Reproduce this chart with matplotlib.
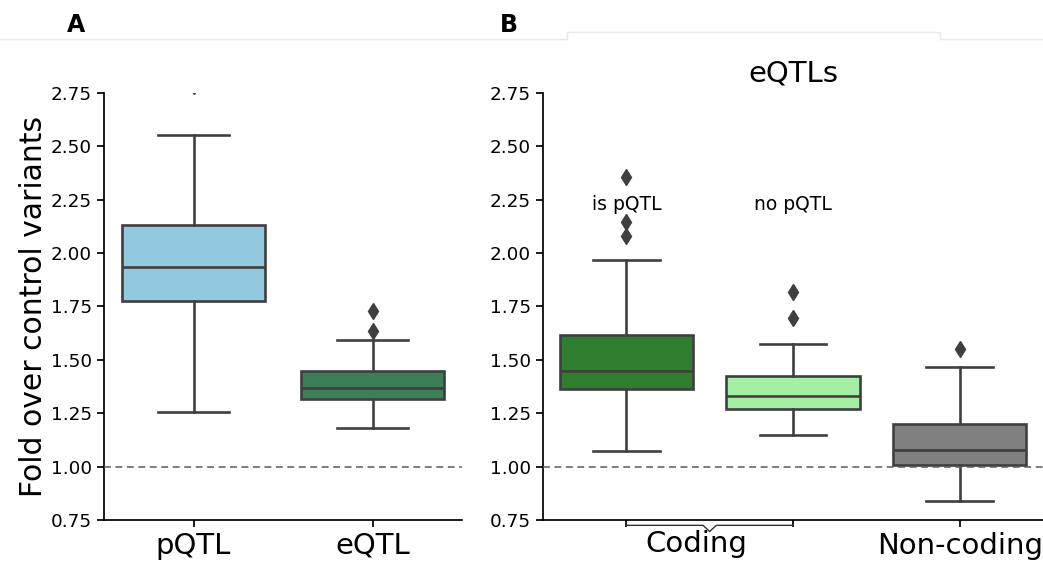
import matplotlib
matplotlib.use('Agg')
import matplotlib.pyplot as plt
import matplotlib.transforms as mtransforms
from matplotlib.lines import Line2D

# panel A data: pQTL / eQTL fold enrichment
a_labels = ['pQTL', 'eQTL']
a_whislo = [1.255, 1.181]
a_q1 = [1.777, 1.317]
a_med = [1.934, 1.367]
a_q3 = [2.130, 1.447]
a_whishi = [2.555, 1.595]
a_fliers = [[2.785], [1.637, 1.729]]
a_colors = ['#93c9de', '#3a7f58']

# panel B data: eQTLs split by coding / pQTL status
b_groups = ['is pQTL', 'no pQTL', 'Non-coding']
b_whislo = [1.073, 1.148, 0.840]
b_q1 = [1.364, 1.270, 1.008]
b_med = [1.448, 1.331, 1.080]
b_q3 = [1.617, 1.424, 1.200]
b_whishi = [1.968, 1.574, 1.468]
b_fliers = [[2.080, 2.146, 2.357], [1.696, 1.818], [1.551]]
b_colors = ['#2f7e2f', '#a4efa4', '#808080']

yticks = [0.75, 1.00, 1.25, 1.50, 1.75, 2.00, 2.25, 2.50, 2.75]

edge = '#3f3f3f'
lw = 1.9


def make_stats(lo, q1, med, q3, hi, fl):
    stats = []
    for i in range(len(med)):
        stats.append({'whislo': lo[i], 'q1': q1[i], 'med': med[i], 'q3': q3[i],
                      'whishi': hi[i], 'fliers': fl[i]})
    return stats


def draw_boxes(ax, stats, colors):
    n = len(stats)
    bp = ax.bxp(stats, positions=list(range(n)), widths=0.8, capwidths=0.4,
                patch_artist=True, showfliers=True,
                boxprops=dict(edgecolor=edge, linewidth=lw),
                medianprops=dict(color=edge, linewidth=lw),
                whiskerprops=dict(color=edge, linewidth=lw),
                capprops=dict(color=edge, linewidth=lw),
                flierprops=dict(marker='d', markersize=8.5, markerfacecolor=edge,
                                markeredgecolor=edge, linestyle='none'))
    for patch, c in zip(bp['boxes'], colors):
        patch.set_facecolor(c)
    ax.axhline(1.0, color='#5a5a5a', linestyle=(0, (4.5, 3)), linewidth=1.1, zorder=5)
    ax.set_ylim(0.75, 2.75)
    ax.set_xlim(-0.5, n - 0.5)
    ax.set_yticks(yticks)
    ax.set_yticklabels(['%.2f' % v for v in yticks], fontsize=13.2)
    ax.spines['top'].set_visible(False)
    ax.spines['right'].set_visible(False)
    ax.spines['left'].set_linewidth(1.25)
    ax.spines['bottom'].set_linewidth(1.25)
    ax.tick_params(length=5, width=1.25)


fig = plt.figure(figsize=(10.43, 5.63), dpi=100)
axA = fig.add_axes([0.0997, 0.0764, 0.3433, 0.7584])
axB = fig.add_axes([0.5206, 0.0764, 0.4794, 0.7584])

# panel A
draw_boxes(axA, make_stats(a_whislo, a_q1, a_med, a_q3, a_whishi, a_fliers), a_colors)
axA.set_xticks([0, 1])
axA.set_xticklabels(a_labels, fontsize=21)
axA.set_ylabel('Fold over control variants', fontsize=21.5, labelpad=2)

# panel B
draw_boxes(axB, make_stats(b_whislo, b_q1, b_med, b_q3, b_whishi, b_fliers), b_colors)
axB.set_xticks([0, 1, 2])
axB.set_xticklabels(['', '', 'Non-coding'], fontsize=21)
axB.set_title('eQTLs', fontsize=21, pad=8)
for i in range(2):
    axB.text(i, 2.23, b_groups[i], ha='center', va='center', fontsize=13.5)

# bracket under the two coding boxes
blend = mtransforms.blended_transform_factory(axB.transData, axB.transAxes)
yb = -0.0125
yv = -0.027
axB.add_line(Line2D([0, 0.46, 0.5, 0.54, 1], [yb, yb, yv, yb, yb], transform=blend,
                    color='#333333', linewidth=1, clip_on=False))
axB.annotate('Coding', xy=(0.42, 0), xycoords=blend, xytext=(0, -7.5),
             textcoords='offset points', ha='center', va='top', fontsize=21)

# panel letters
fig.text(0.073, 0.955, 'A', fontsize=17, fontweight='bold', ha='center', va='center')
fig.text(0.488, 0.955, 'B', fontsize=17, fontweight='bold', ha='center', va='center')

# faint frame lines at the top
yl = 1 - 39 / 563
yt = 1 - 32 / 563
x0 = 567 / 1043
x1 = 940 / 1043
fc = '#e8e8e8'
fig.add_artist(Line2D([0, x0], [yl, yl], color=fc, linewidth=1))
fig.add_artist(Line2D([x1, 1], [yl, yl], color=fc, linewidth=1))
fig.add_artist(Line2D([x0, x0, x1, x1], [yl, yt, yt, yl], color=fc, linewidth=1))

plt.savefig('out.png', dpi=100)
